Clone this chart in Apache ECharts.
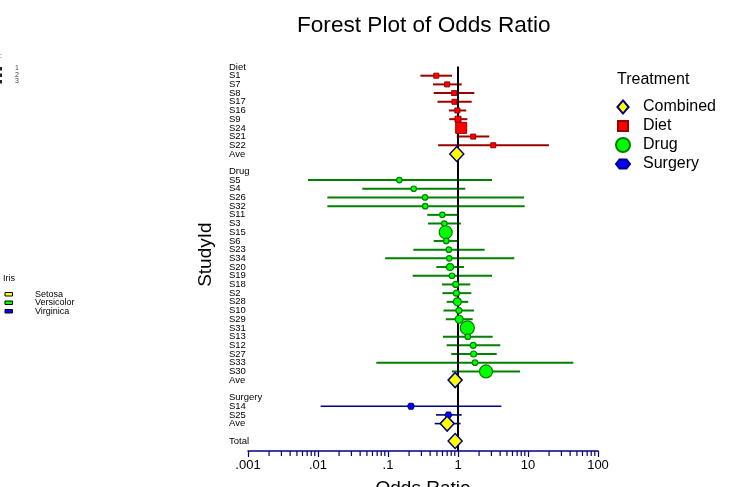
<!DOCTYPE html>
<html><head><meta charset="utf-8">
<script src="https://cdn.jsdelivr.net/npm/echarts@6/dist/echarts.min.js"></script>
<style>html,body{margin:0;padding:0;background:#fff}#c{width:746px;height:487px}</style>
</head><body><div id="c"></div>
<script>
// ---------- data ----------
const rowLabels = ['Diet','S1','S7','S8','S17','S16','S9','S24','S21','S22','Ave','',
  'Drug','S5','S4','S26','S32','S11','S3','S15','S6','S23','S34','S20','S19','S18','S2','S28','S10','S29','S31','S13','S12','S27','S33','S30','Ave','',
  'Surgery','S14','S25','Ave','',
  'Total'];
const xTickLabels = ['.001','.01','.1','1','10','100'];
const minorMultipliers = [2,3,4,5,6,7,8,9];
const refValue = 1;

const dietStudies = ['S1','S7','S8','S17','S16','S9','S24','S21','S22'];
const dietOR   = [0.49,0.70,0.88,0.89,0.98,1.00,1.11,1.65,3.19];
const dietLo   = [0.29,0.44,0.45,0.51,0.74,0.75,1.00,0.96,0.52];
const dietHi   = [0.82,1.13,1.71,1.57,1.31,1.36,1.22,2.80,19.9];
const dietSize = [5,5,5,5,5,6,11,5,5];

const drugStudies = ['S5','S4','S26','S32','S11','S3','S15','S6','S23','S34','S20','S19','S18','S2','S28','S10','S29','S31','S13','S12','S27','S33','S30'];
const drugOR   = [0.145,0.233,0.338,0.34,0.597,0.637,0.667,0.68,0.74,0.75,0.77,0.82,0.93,0.95,0.98,1.03,1.04,1.36,1.38,1.65,1.67,1.75,2.51];
const drugLo   = [0.0072,0.043,0.0136,0.0136,0.364,0.373,0.60,0.45,0.23,0.091,0.49,0.225,0.59,0.60,0.69,0.62,0.67,1.2,0.61,0.69,0.80,0.068,0.82];
const drugHi   = [3.06,1.27,8.77,8.97,0.99,1.10,0.74,1.02,2.40,6.37,1.22,3.06,1.50,1.55,1.40,1.69,1.62,1.55,3.13,4.02,3.57,44.4,7.69];
const drugSize = [5.5,5.5,5.5,5.5,5.5,5.5,13,5.5,5.5,5.5,7,5.5,6,6,8,6,8,14,5.5,6,6,5.5,13];

const surgStudies = ['S14','S25'];
const surgOR   = [0.213,0.73];
const surgLo   = [0.0109,0.485];
const surgHi   = [4.16,1.13];
const surgSize = [6,6];

const combinedGroups = ['Diet','Drug','Surgery','Total'];
const combinedOR = [0.96,0.91,0.70,0.91];
const combinedLo = [null,null,0.465,null];
const combinedHi = [null,null,1.09,null];

const irisLegend = ['Setosa','Versicolor','Virginica'];
const strayLegend = ['1','2','3'];

// ---------- helpers ----------
const FONT = '"Liberation Sans", Arial, sans-serif';
const yMin = -1, yMax = 44.15;
function rowOf(group, name){
  const g = rowLabels.indexOf(group);
  return rowLabels.indexOf(name, g);
}
function combinedRow(i){
  const g = combinedGroups[i];
  return g === 'Total' ? rowLabels.indexOf('Total') : rowOf(g, 'Ave');
}
function ciSeries(name, data, color, width){
  return {
    name: name, type: 'custom', z: 2, data: data,
    encode: {x: [0,1], y: 2},
    renderItem: function(params, api){
      const a = api.coord([api.value(0), api.value(2)]);
      const b = api.coord([api.value(1), api.value(2)]);
      return {type:'line', shape:{x1:a[0], y1:a[1], x2:b[0], y2:b[1]},
        style:{stroke: color, lineWidth: width}};
    }
  };
}
const dietCI = dietStudies.map((s,i)=>[dietLo[i], dietHi[i], rowOf('Diet', s)]);
const drugCI = drugStudies.map((s,i)=>[drugLo[i], drugHi[i], rowOf('Drug', s)]);
const surgCI = surgStudies.map((s,i)=>[surgLo[i], surgHi[i], rowOf('Surgery', s)]);
const combCI = [];
combinedOR.forEach((v,i)=>{ if(combinedLo[i]!=null) combCI.push([combinedLo[i], combinedHi[i], combinedRow(i)]); });

const dietPts = dietStudies.map((s,i)=>[dietOR[i], rowOf('Diet', s), dietSize[i]]);
const drugPts = drugStudies.map((s,i)=>[drugOR[i], rowOf('Drug', s), drugSize[i]]);
const surgPts = surgStudies.map((s,i)=>[surgOR[i], rowOf('Surgery', s), surgSize[i]]);
const combPts = combinedOR.map((v,i)=>[v, combinedRow(i)]);

const decades = xTickLabels.map(Number);
const minorTicks = [];
decades.slice(0,-1).forEach(d=>minorMultipliers.forEach(k=>minorTicks.push([k*d])));

const hexPath = 'path://M0,7L3.5,1L10.5,1L14,7L10.5,13L3.5,13Z';
const hexIcon = 'path://M0,0M14,14M0,7L3.5,2.5L10.5,2.5L14,7L10.5,11.5L3.5,11.5Z';
const diamondIcon = 'path://M0,0M14,15M7,0.5L13,7.5L7,14.5L1,7.5Z';
const squareIcon = 'path://M0,0M14,14M2,2H12V12H2Z';
const circleIcon = 'path://M7,0.5A6.5,6.5,0,1,1,7,13.5A6.5,6.5,0,1,1,7,0.5Z';

const graphics = [];
graphics.push({type:'text', left:0, top:53, style:{text:':', font:'7px '+FONT, fill:'#333'}});
strayLegend.forEach((t,i)=>{
  graphics.push({type:'rect', shape:{x:0, y:67+i*6.5, width:2, height:3.5}, style:{fill:'#222'}});
  graphics.push({type:'text', x:15, y:68.5+i*6.5, style:{text:t, font:'7px '+FONT, fill:'#444', verticalAlign:'middle'}});
});
graphics.push({type:'text', x:3, y:279, style:{text:'Iris', font:'9px '+FONT, fill:'#000', verticalAlign:'middle'}});
const irisColors = ['#ffff00','#00ff00','#0000ff'];
irisLegend.forEach((t,i)=>{
  graphics.push({type:'rect', shape:{x:5, y:292.5+i*8.5, width:7.5, height:3.5}, style:{fill:irisColors[i], stroke:'#000', lineWidth:1}});
  graphics.push({type:'text', x:35, y:294.5+i*8.5, style:{text:t, font:'9px '+FONT, fill:'#000', verticalAlign:'middle'}});
});

const option = {
  animation: false,
  backgroundColor: '#fff',
  title: [
    {text:'Forest Plot of Odds Ratio', left: 297, top: 14, padding: 0,
     textStyle:{fontFamily: FONT, fontSize: 22.6, fontWeight:'normal', color:'#000'}},
    {text:'Treatment', left: 617, top: 72, padding: 0,
     textStyle:{fontFamily: FONT, fontSize: 16, fontWeight:'normal', color:'#000'}}
  ],
  legend: {
    orient:'vertical', left: 615, top: 99, padding: 0,
    itemWidth: 30, itemHeight: 14, itemGap: 3,
    textStyle:{fontFamily: FONT, fontSize: 16, color:'#000'},
    data: [
      {name:'Combined', icon: diamondIcon},
      {name:'Diet', icon: squareIcon},
      {name:'Drug', icon: circleIcon},
      {name:'Surgery', icon: hexIcon}
    ]
  },
  graphic: graphics,
  grid: {left: 248, right: 148, top: 58.3, height: 392.7, containLabel: false, outerBoundsMode: 'none'},
  xAxis: {
    type:'log', logBase: 10, min: 0.001, max: 100, position: 'bottom',
    name:'Odds Ratio', nameLocation:'middle', nameGap: 28,
    nameTextStyle:{fontFamily: FONT, fontSize: 19, color:'#000'},
    axisLine:{show:true, onZero:false, lineStyle:{color:'#000080', width:1.5}},
    axisTick:{show:true, length:6, lineStyle:{color:'#000080', width:1.2}},
    axisLabel:{fontFamily: FONT, fontSize: 13, color:'#000', margin: 8,
      formatter: v => xTickLabels[Math.round(Math.log10(v)) + 3] || ''},
    splitLine:{show:false}
  },
  yAxis: {
    type:'value', inverse: true, min: yMin, max: yMax, interval: 1,
    name:'StudyId', nameLocation:'middle', nameGap: 33, nameRotate: 90,
    nameTextStyle:{fontFamily: FONT, fontSize: 19, color:'#000'},
    axisLine:{show:false}, axisTick:{show:false}, splitLine:{show:false},
    axisLabel:{align:'left', margin: 19, fontFamily: FONT, fontSize: 9.5, color:'#000',
      formatter: v => (Number.isInteger(v) && rowLabels[v]) ? rowLabels[v] : ''}
  },
  series: [
    ciSeries('dietCI', dietCI, '#990000', 2),
    ciSeries('drugCI', drugCI, '#008000', 2),
    ciSeries('surgCI', surgCI, '#000080', 1.6),
    ciSeries('combCI', combCI, '#000080', 1.6),
    {
      name:'refLine', type:'custom', z: 2, data:[[refValue]], encode:{x:0},
      renderItem: function(params, api){
        const a = api.coord([api.value(0), 0]);
        const b = api.coord([api.value(0), yMax]);
        return {type:'line', shape:{x1:a[0], y1:a[1]-0.5, x2:b[0], y2:b[1]}, style:{stroke:'#000', lineWidth:2}};
      }
    },
    {
      name:'minorTicks', type:'custom', z: 2, data: minorTicks, encode:{x:0}, clip:false,
      renderItem: function(params, api){
        const a = api.coord([api.value(0), yMax]);
        return {type:'line', shape:{x1:a[0], y1:a[1], x2:a[0], y2:a[1]+5}, style:{stroke:'#000080', lineWidth:1.2}};
      }
    },
    {name:'Diet', type:'scatter', z: 3, data: dietPts, symbol:'rect',
     symbolSize: v => v[2],
     itemStyle:{color:'#ff0000', borderColor:'#990000', borderWidth:1, opacity:1}},
    {name:'Drug', type:'scatter', z: 3, data: drugPts, symbol:'circle',
     symbolSize: v => v[2],
     itemStyle:{color:'#00ff00', borderColor:'#008000', borderWidth:1.2, opacity:1}},
    {name:'Surgery', type:'scatter', z: 3, data: surgPts, symbol: hexPath,
     symbolSize: v => [v[2]+1, v[2]],
     itemStyle:{color:'#0000ff', borderColor:'#000080', borderWidth:1, opacity:1}},
    {name:'Combined', type:'scatter', z: 4, data: combPts, symbol:'diamond',
     symbolSize: [14, 15],
     itemStyle:{color:'#ffff00', borderColor:'#000080', borderWidth:1.5, opacity:1}}
  ]
};
const chart = echarts.init(document.getElementById('c'), null, {renderer:'canvas'});
chart.setOption(option);
</script>
</body></html>
